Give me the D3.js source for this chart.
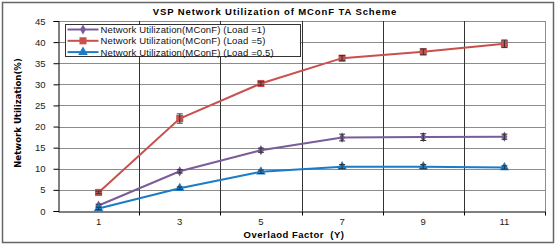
<!DOCTYPE html>
<html>
<head>
<meta charset="utf-8">
<script src="https://cdn.jsdelivr.net/npm/d3@7"></script>
<style>
  body { margin: 0; background: #fff; }
  text { font-family: "Liberation Sans", Arial, sans-serif; }
</style>
</head>
<body>
<div class="chart"></div>
<script>
// categories on the x axis
const factors = ["1", "3", "5", "7", "9", "11"];
const yTicks = [0, 5, 10, 15, 20, 25, 30, 35, 40, 45];

// series values
const load1 = [1.3, 9.4, 14.4, 17.4, 17.5, 17.6];
const load5 = [4.4, 21.9, 30.2, 36.2, 37.7, 39.6];
const load05 = [0.6, 5.4, 9.3, 10.5, 10.5, 10.3];

// error bar half-heights
const err1 = [0.3, 0.4, 0.5, 0.8, 0.8, 0.6];
const err5 = [0.3, 1.1, 0.4, 0.6, 0.7, 0.9];
const err05 = [0.3, 0.3, 0.4, 0.5, 0.5, 0.4];

const seriesNames = [
  "Network Utilization(MConF) (Load =1)",
  "Network Utilization(MConF) (Load =5)",
  "Network Utilization(MConF) (Load =0.5)"
];

const series = [
  { name: seriesNames[0], values: load1, err: err1, color: "#7a5c9a", shape: "diamond" },
  { name: seriesNames[1], values: load5, err: err5, color: "#c8504d", shape: "square" },
  { name: seriesNames[2], values: load05, err: err05, color: "#1a7cc9", shape: "triangle" }
];

const totalWidth = 557, totalHeight = 246;
const margin = { top: 21, left: 58, right: 12, bottom: 35 };
const width = totalWidth - margin.left - margin.right,
  height = totalHeight - margin.top - margin.bottom;

const svg = d3
  .select(".chart")
  .append("svg")
  .attr("width", totalWidth)
  .attr("height", totalHeight);

// outer frame
svg
  .append("rect")
  .attr("x", 2.5)
  .attr("y", 2.5)
  .attr("width", 551)
  .attr("height", 240)
  .attr("fill", "#fff")
  .attr("stroke", "#666")
  .attr("stroke-width", 1.5);

const xScale = d3.scaleBand().domain(factors).range([0, width]);
const yScale = d3.scaleLinear().domain([0, 45]).range([height, 0]);

const chartGroup = svg
  .append("g")
  .attr("transform", `translate(${margin.left}, ${margin.top})`);

//horizontal gridlines
chartGroup
  .selectAll(".hgrid")
  .data(yTicks.slice(1))
  .enter()
  .append("line")
  .attr("x1", 0)
  .attr("x2", width)
  .attr("y1", (d) => Math.round(yScale(d)) + 0.5)
  .attr("y2", (d) => Math.round(yScale(d)) + 0.5)
  .attr("stroke", "#8c8c8c")
  .attr("stroke-width", 1);

//vertical gridlines at category boundaries
chartGroup
  .selectAll(".vgrid")
  .data(factors)
  .enter()
  .append("line")
  .attr("x1", (d) => Math.round(xScale(d) + xScale.bandwidth()) + 0.5)
  .attr("x2", (d) => Math.round(xScale(d) + xScale.bandwidth()) + 0.5)
  .attr("y1", 0)
  .attr("y2", height)
  .attr("stroke", (d, i) => (i === factors.length - 1 ? "#8c8c8c" : "#333"))
  .attr("stroke-width", 1);

//y axis
const yAxis = d3.axisLeft(yScale).tickValues(yTicks).tickSize(5).tickPadding(8);
const yG = chartGroup.append("g").attr("transform", "translate(0.5,0)").call(yAxis);
yG.select(".domain").attr("stroke", "#000");
yG.selectAll(".tick line").attr("stroke", "#000");
yG.selectAll("text").attr("font-size", 9.5).attr("fill", "#222");

//x axis
const xAxis = d3.axisBottom(xScale).tickSize(0).tickPadding(7);
const xG = chartGroup
  .append("g")
  .attr("transform", `translate(0, ${height + 0.5})`)
  .call(xAxis);
xG.select(".domain").attr("stroke", "#000");
xG.selectAll("text").attr("font-size", 9.5).attr("fill", "#222");
xG.selectAll(".bound")
  .data(factors)
  .enter()
  .append("line")
  .attr("x1", (d) => Math.round(xScale(d) + xScale.bandwidth()) + 0.5)
  .attr("x2", (d) => Math.round(xScale(d) + xScale.bandwidth()) + 0.5)
  .attr("y1", 0)
  .attr("y2", 4)
  .attr("stroke", "#000");

const cx = (i) => xScale(factors[i]) + xScale.bandwidth() / 2;

const line = d3
  .line()
  .x((d, i) => cx(i))
  .y((d) => yScale(d));

const symbolFor = {
  diamond: d3.symbol().type(d3.symbolDiamond).size(30),
  square: d3.symbol().type(d3.symbolSquare).size(50),
  triangle: d3.symbol().type(d3.symbolTriangle).size(40)
};

series.forEach((s) => {
  const g = chartGroup.append("g");
  g.append("path")
    .attr("d", line(s.values))
    .attr("fill", "none")
    .attr("stroke", s.color)
    .attr("stroke-width", 2);

  g.selectAll(".marker")
    .data(s.values)
    .enter()
    .append("path")
    .attr("transform", (d, i) => `translate(${cx(i)}, ${yScale(d)})`)
    .attr("d", symbolFor[s.shape]())
    .attr("fill", s.color);

  //error bars
  const eb = g
    .selectAll(".err")
    .data(s.values)
    .enter()
    .append("g")
    .attr("stroke", "#333")
    .attr("stroke-width", 1);
  eb.append("line")
    .attr("x1", (d, i) => cx(i))
    .attr("x2", (d, i) => cx(i))
    .attr("y1", (d, i) => yScale(d + s.err[i]))
    .attr("y2", (d, i) => yScale(d - s.err[i]));
  eb.append("line")
    .attr("x1", (d, i) => cx(i) - 3)
    .attr("x2", (d, i) => cx(i) + 3)
    .attr("y1", (d, i) => yScale(d + s.err[i]))
    .attr("y2", (d, i) => yScale(d + s.err[i]));
  eb.append("line")
    .attr("x1", (d, i) => cx(i) - 3)
    .attr("x2", (d, i) => cx(i) + 3)
    .attr("y1", (d, i) => yScale(d - s.err[i]))
    .attr("y2", (d, i) => yScale(d - s.err[i]));
});

//legend
const legendGroup = svg.append("g").attr("transform", "translate(65.5, 24.5)");
legendGroup
  .append("rect")
  .attr("width", 235)
  .attr("height", 32)
  .attr("fill", "#fff")
  .attr("stroke", "#333");

series.forEach((s, i) => {
  const y = 5 + i * 11.3;
  legendGroup
    .append("line")
    .attr("x1", 2)
    .attr("x2", 33)
    .attr("y1", y)
    .attr("y2", y)
    .attr("stroke", s.color)
    .attr("stroke-width", 2);
  legendGroup
    .append("path")
    .attr("transform", `translate(17.5, ${y})`)
    .attr("d", symbolFor[s.shape]())
    .attr("fill", s.color);
  legendGroup
    .append("text")
    .attr("x", 35)
    .attr("y", y + 3.5)
    .attr("font-size", 9.5)
    .attr("letter-spacing", 0.15)
    .attr("fill", "#111")
    .text(s.name);
});

//title
svg
  .append("text")
  .attr("x", 275)
  .attr("y", 15)
  .attr("text-anchor", "middle")
  .attr("font-size", 9.5)
  .attr("font-weight", "bold")
  .attr("letter-spacing", 0.9)
  .text("VSP Network Utilization of MConF TA Scheme");

//x axis title
svg
  .append("text")
  .attr("x", 294)
  .attr("y", 238)
  .attr("text-anchor", "middle")
  .attr("font-size", 9.5)
  .attr("font-weight", "bold")
  .attr("letter-spacing", 0.5)
  .attr("xml:space", "preserve")
  .text("Overlaod Factor  (Y)");

//y axis title
svg
  .append("text")
  .attr("transform", "translate(21, 113) rotate(-90)")
  .attr("text-anchor", "middle")
  .attr("font-size", 9.5)
  .attr("font-weight", "bold")
  .style("font-family", '"Liberation Sans Narrow", "DejaVu Sans Condensed", sans-serif')
  .text("Network Utilization(%)");
</script>
</body>
</html>
